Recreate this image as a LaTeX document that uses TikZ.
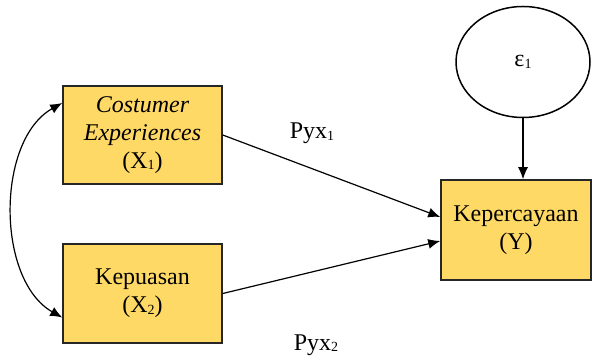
\documentclass[tikz,border=0pt]{standalone}
\usepackage{fontspec}
\setmainfont{Liberation Serif}
\usetikzlibrary{arrows.meta,shapes.geometric}
\definecolor{boxfill}{RGB}{255,217,102}
\newcommand{\sbs}[1]{{\scriptsize\raisebox{-0.25ex}{#1}}}
\begin{document}
\begin{tikzpicture}[x=0.5pt,y=-0.5pt,
  var/.style={draw=black!85,line width=0.75pt,fill=boxfill,rectangle,align=center,
    font=\fontsize{12}{14}\selectfont,inner sep=0pt},
  conn/.style={line width=0.6pt,-{Latex[length=6pt,width=5pt]}},
  lbl/.style={font=\fontsize{12}{14}\selectfont,anchor=base,inner sep=0pt}]
\useasboundingbox (0,0) rectangle (593,357);
\node[var,minimum width=79.5pt,minimum height=49pt] (x1) at (142.5,135)
  {\textit{Costumer}\\\textit{Experiences}\\(X\sbs{1})};
\node[var,minimum width=79.5pt,minimum height=49.5pt] (x2) at (142.5,293.5)
  {Kepuasan\\(X\sbs{2})};
\node[var,minimum width=75pt,minimum height=50pt] (y) at (516,230)
  {Kepercayaan\\(Y)};
\node[draw,line width=0.75pt,ellipse,minimum width=67pt,minimum height=55.5pt,inner sep=0pt,
  font=\fontsize{12}{14}\selectfont] (e) at (523,62) {ε\sbs{1}};
\node[lbl] (p1) at (312,139) {Pyx\sbs{1}};
\node[lbl] (p2) at (316,350) {Pyx\sbs{2}};
\draw[conn] (x1.east) -- ([yshift=6.5pt]y.west);
\draw[conn] (x2.east) -- ([yshift=-5.5pt]y.west);
\draw[conn] (e.south) -- (y.north -| e.south);
\coordinate (a1) at ([yshift=16pt]x1.west);
\coordinate (a2) at ([yshift=-12pt]x2.west);
\draw[line width=0.6pt,{Latex[length=6pt,width=5pt]}-{Latex[length=6pt,width=5pt]}]
  (a1) .. controls (-4,140) and (-4,280) .. (a2);
\end{tikzpicture}
\end{document}
